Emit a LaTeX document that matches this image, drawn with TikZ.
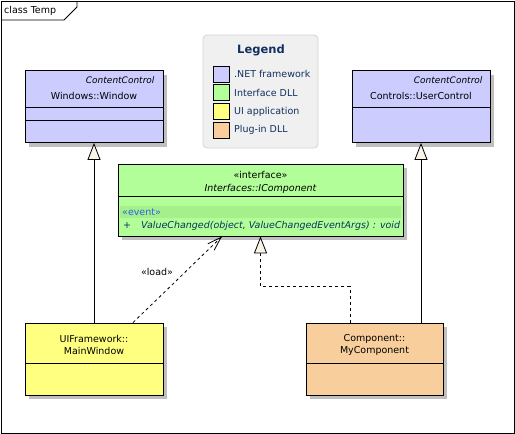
\documentclass[tikz,border=0pt]{standalone}
\usepackage{fontspec}
\setmainfont{DejaVu Sans}
\usetikzlibrary{arrows.meta, positioning, shadows, calc}
\definecolor{netblue}{RGB}{204,204,255}
\definecolor{ifgreen}{RGB}{178,255,153}
\definecolor{evgreen}{RGB}{166,240,140}
\definecolor{uiyellow}{RGB}{255,255,128}
\definecolor{plugpeach}{RGB}{248,206,156}
\definecolor{legendgray}{RGB}{240,240,240}
\definecolor{legendline}{RGB}{212,212,212}
\definecolor{legendtext}{RGB}{16,48,96}
\definecolor{stereoblue}{RGB}{40,100,230}
\definecolor{opnavy}{RGB}{10,50,90}
\definecolor{tipfill}{RGB}{250,244,232}

\begin{document}
\begin{tikzpicture}[x=1pt, y=-1pt, font=\fontsize{9.5}{12}\selectfont,
    classbox/.style={draw, line width=0.8pt, minimum width=138pt, minimum height=72pt, inner sep=0pt,
        drop shadow={shadow xshift=4pt, shadow yshift=-4pt, fill=black!25, opacity=1}},
    inherit/.style={line width=0.8pt, -{Triangle[width=13pt, length=17pt, fill=tipfill]}},
    realize/.style={inherit, dash pattern=on 3pt off 3pt},
    depend/.style={line width=0.8pt, dash pattern=on 3pt off 3pt},
    barbtip/.style={line width=0.8pt, -{Straight Barb[length=14pt, width=9pt]}},
    swatch/.style={draw, line width=0.8pt, minimum size=16pt, inner sep=0pt}]
\useasboundingbox (0,0) rectangle (515,434);

% diagram frame with its tab
\draw[line width=0.8pt] (1,1) rectangle (514,433);
\draw[line width=0.8pt] (1,20) -- (64,20) -- (77,7) -- (77,1);
\node[anchor=west, inner sep=0pt] (frametitle) at (4,11) {class Temp};

% legend
\node[draw=legendline, fill=legendgray, rounded corners=4pt, line width=0.8pt,
    minimum width=115pt, minimum height=113pt] (legend) at (260.5,91.5) {};
\node[font=\fontsize{11.5}{13}\selectfont\bfseries, text=legendtext] (legendtitle) at (261,50) {Legend};
\foreach \col/\txt [count=\i] in {netblue/.NET framework, ifgreen/Interface DLL,
        uiyellow/UI application, plugpeach/Plug-in DLL}
{
    \node[swatch, fill=\col] (sw\i) at (221,{74+18.7*(\i-1)}) {};
    \node[anchor=west, inner sep=0pt, text=legendtext] (lg\i) at (234,{74+18.7*(\i-1)}) {\txt};
}

% .NET framework classes
\node[classbox, fill=netblue] (window) at (94,106.5) {};
\draw ([yshift=-0.5pt]window.west) -- ([yshift=-0.5pt]window.east);
\draw ([yshift=-13.5pt]window.west) -- ([yshift=-13.5pt]window.east);
\node[anchor=east, font=\fontsize{9}{12}\selectfont\itshape] (windowbase) at (158,80) {ContentControl};
\node (windowname) at (94,96) {Windows::Window};

\node[classbox, fill=netblue] (userctrl) at (421,106.5) {};
\draw ([yshift=-0.5pt]userctrl.west) -- ([yshift=-0.5pt]userctrl.east);
\node[anchor=east, font=\fontsize{9}{12}\selectfont\itshape] (userctrlbase) at (486,80) {ContentControl};
\node (userctrlname) at (421,96) {Controls::UserControl};

% interface DLL
\node[classbox, fill=ifgreen, minimum width=285pt] (icomp) at (260.5,200) {};
\draw ([yshift=4pt]icomp.west) -- ([yshift=4pt]icomp.east);
\fill[evgreen] ([xshift=2pt, yshift=-6pt]icomp.west) rectangle ([xshift=-2pt, yshift=-18pt]icomp.east);
\node (icompstereo) at (260.5,175) {«interface»};
\node[font=\fontsize{9.5}{12}\selectfont\itshape] (icompname) at (260.5,189) {Interfaces::IComponent};
\node[anchor=west, inner sep=0pt, text=stereoblue] (evstereo) at (122,212) {«event»};
\node[anchor=west, inner sep=0pt, text=opnavy] (evplus) at (123,226) {+};
\node[anchor=west, inner sep=0pt, text=opnavy, font=\fontsize{9.5}{12}\selectfont\itshape] (evop) at (141,226)
    {ValueChanged(object, ValueChangedEventArgs) : void};

% UI application and plug-in
\node[classbox, fill=uiyellow] (mainwin) at (94,359) {};
\draw ([yshift=-4pt]mainwin.west) -- ([yshift=-4pt]mainwin.east);
\node[align=center] (mainwinname) at (94,345) {UIFramework::\\MainWindow};

\node[classbox, fill=plugpeach, minimum width=137pt] (mycomp) at (374.5,359) {};
\draw ([yshift=-4pt]mycomp.west) -- ([yshift=-4pt]mycomp.east);
\node[align=center] (mycompname) at (374.5,345) {Component::\\MyComponent};

% relations
\draw[inherit] (mainwin.north) -- (window.south);
\draw[inherit] (userctrl.south |- mycomp.north) -- (userctrl.south);
\draw[realize] ([xshift=-24.5pt]mycomp.north) -- ++(0,-36) -| (icomp.south);
\coordinate (loadfrom) at ([xshift=39pt]mainwin.north);
\coordinate (loadto) at ([xshift=-38.5pt]icomp.south);
\draw[depend] (loadfrom) -- (loadto);
\draw[barbtip] ($(loadto)!2pt!(loadfrom)$) -- (loadto);
\node (loadlabel) at (157,272) {«load»};
\end{tikzpicture}
\end{document}
